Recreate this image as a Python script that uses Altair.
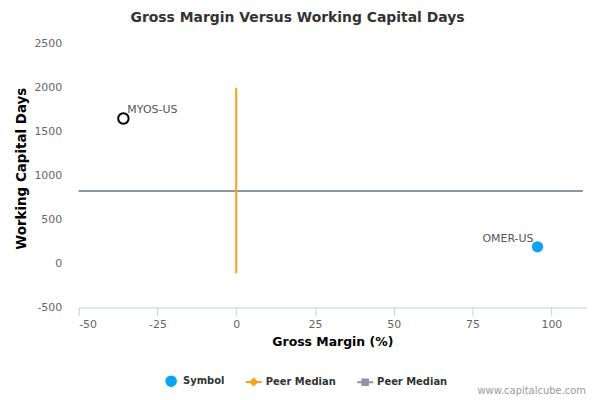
import altair as alt
import pandas as pd

# ---- data ----
symbols = ["MYOS-US", "OMER-US"]
gross_margin = [-35.8, 95.6]
wc_days = [1650, 190]
point_kind = ["open", "filled"]

peer_median_x = 0.0          # vertical peer median (gross margin)
peer_median_x_span = [-110, 2000]
peer_median_y = 824          # horizontal peer median (working capital days)
peer_median_y_span = [-50, 110]

legend_keys = ["sym", "pm1", "pm2"]
legend_labels = ["Symbol", "Peer Median", "Peer Median"]

x_ticks = [-50, -25, 0, 25, 50, 75, 100]
y_ticks = [-500, 0, 500, 1000, 1500, 2000, 2500]

BLUE = "#0AA2F2"
ORANGE = "#F7A21B"
GREY = "#8E94A6"
FONT = "DejaVu Sans"

pts = pd.DataFrame({"x": gross_margin, "y": wc_days, "label": symbols, "kind": point_kind})
vline = pd.DataFrame({"x": [peer_median_x, peer_median_x], "y": peer_median_x_span})
hline = pd.DataFrame({"x": peer_median_y_span, "y": [peer_median_y, peer_median_y]})
leg = pd.DataFrame({"k": legend_keys, "x": [-1000] * 3, "y": [-10000] * 3})

xs = alt.Scale(domain=[-50, 111], nice=False, zero=False)
ys = alt.Scale(domain=[-500, 2500], nice=False, zero=False)

xaxis = alt.Axis(values=x_ticks, title="Gross Margin (%)", grid=False, labelExpr="'' + datum.value",
                 domainColor="#C0D0E0", tickColor="#C0D0E0", tickSize=8,
                 labelPadding=3, labelColor="#666666", labelFont=FONT, labelFontSize=11,
                 titleFont=FONT, titleFontSize=12.5, titleFontWeight="bold", titleColor="#000000",
                 titlePadding=6)
yaxis = alt.Axis(values=y_ticks, title="Working Capital Days", grid=False, domain=False,
                 labelExpr="'' + datum.value",
                 ticks=False, labelPadding=17, labelColor="#666666", labelFont=FONT,
                 labelFontSize=11, titleFont=FONT, titleFontSize=13.5, titleFontWeight="bold",
                 titleColor="#000000", titlePadding=5, titleY=125)

X = alt.X("x:Q", scale=xs, axis=xaxis)
Y = alt.Y("y:Q", scale=ys, axis=yaxis)

hl = alt.Chart(hline).mark_line(color=GREY, strokeWidth=2).encode(x=X, y=Y)
vl = alt.Chart(vline).mark_line(color=ORANGE, strokeWidth=2).encode(x=X, y=Y)

open_pt = alt.Chart(pts).transform_filter("datum.kind == 'open'").mark_point(
    shape="circle", size=110, filled=False, stroke="#000000", strokeWidth=2, opacity=1
).encode(x=X, y=Y)
filled_pt = alt.Chart(pts).transform_filter("datum.kind == 'filled'").mark_point(
    shape="circle", size=130, filled=True, fill=BLUE, strokeWidth=0, opacity=1
).encode(x=X, y=Y)

lab_left = alt.Chart(pts).transform_filter("datum.kind == 'open'").mark_text(
    align="left", dx=4, dy=-9, font=FONT, fontSize=11, color="#555555"
).encode(x=X, y=Y, text="label:N")
lab_right = alt.Chart(pts).transform_filter("datum.kind == 'filled'").mark_text(
    align="right", dx=-4, dy=-8, font=FONT, fontSize=11, color="#555555"
).encode(x=X, y=Y, text="label:N")

shape_paths = [
    "M-0.6,0A0.6,0.6,0,1,1,0.6,0A0.6,0.6,0,1,1,-0.6,0Z",
    "M-1,0L1,0M0,-0.4L0.4,0L0,0.4L-0.4,0Z",
    "M-1,0L1,0M-0.35,-0.35L0.35,-0.35L0.35,0.35L-0.35,0.35Z",
]
label_expr = "datum.value == 'sym' ? 'Symbol' : 'Peer Median'"
legend = alt.Legend(title=None, orient="none", legendX=84, legendY=330, direction="horizontal",
                    symbolSize=256, symbolStrokeWidth=2, symbolOpacity=1,
                    labelFont=FONT, labelFontSize=10, labelFontWeight="bold", labelColor="#333333",
                    labelOffset=3, columnPadding=17, padding=0, labelExpr=label_expr)
leg_layer = alt.Chart(leg).mark_point(clip=True, filled=True, opacity=1).encode(
    x=alt.X("x:Q", scale=xs),
    y=alt.Y("y:Q", scale=ys),
    fill=alt.Fill("k:N", scale=alt.Scale(domain=legend_keys, range=[BLUE, ORANGE, GREY]), legend=legend),
    stroke=alt.Stroke("k:N", scale=alt.Scale(domain=legend_keys, range=[BLUE, ORANGE, GREY]), legend=legend),
    shape=alt.Shape("k:N", scale=alt.Scale(domain=legend_keys, range=shape_paths), legend=legend),
)

watermark = alt.Chart(pd.DataFrame({"t": ["www.capitalcube.com"]})).mark_text(
    align="right", baseline="middle", font=FONT, fontSize=10, color="#999999"
).encode(x=alt.value(510), y=alt.value(349), text="t:N")

chart = alt.layer(hl, vl, open_pt, filled_pt, lab_left, lab_right, leg_layer, watermark).properties(
    width=510, height=265,
    title=alt.TitleParams("Gross Margin Versus Working Capital Days", font=FONT, fontSize=14,
                          fontWeight="bold", color="#333333", anchor="middle", dx=-35, offset=13),
    autosize=alt.AutoSizeParams(type="none"),
    padding={"left": 71, "top": 35, "right": 6, "bottom": 90},
).configure_view(stroke=None)

chart.save("out.html", embed_options={"renderer": "svg", "actions": False})
